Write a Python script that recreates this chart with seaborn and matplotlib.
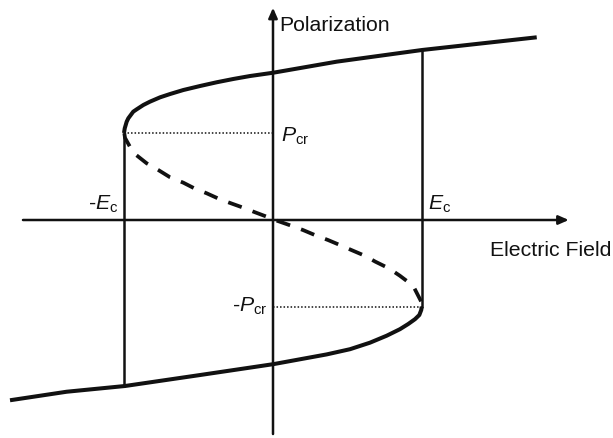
import matplotlib
matplotlib.use("Agg")
import matplotlib.pyplot as plt
import seaborn as sns
import pandas as pd

# Field E in units of the coercive field Ec, polarization P in units of Pcr.
upper_E = [-1.000, -0.995, -0.982, -0.971, -0.938, -0.915, -0.870, -0.826,
           -0.758, -0.691, -0.602, -0.490, -0.378, -0.266, -0.154, 0.002,
           0.428, 1.000, 1.770]
upper_P = [1.000, 1.054, 1.130, 1.169, 1.245, 1.272, 1.322, 1.360,
           1.410, 1.448, 1.494, 1.540, 1.583, 1.621, 1.655, 1.693,
           1.820, 1.954, 2.100]

lower_E = [-1.765, -1.385, -0.993, -0.490, 0.002, 0.360, 0.517, 0.651,
           0.763, 0.852, 0.908, 0.953, 0.982, 0.995, 0.998]
lower_P = [-2.072, -1.974, -1.908, -1.782, -1.657, -1.545, -1.485, -1.410,
           -1.330, -1.255, -1.195, -1.140, -1.092, -1.034, -0.997]

unstable_E = [-0.998, -0.993, -0.938, -0.848, -0.770, -0.691, -0.602, -0.528,
              -0.445, -0.360, -0.282, -0.199, -0.121, -0.042, 0.013, 0.123,
              0.201, 0.291, 0.369, 0.448, 0.526, 0.615, 0.687, 0.777, 0.851,
              0.940, 0.995, 0.998]
unstable_P = [0.997, 0.943, 0.774, 0.652, 0.575, 0.491, 0.429, 0.364,
              0.307, 0.241, 0.192, 0.141, 0.089, 0.038, 0.000, -0.066,
              -0.115, -0.180, -0.230, -0.287, -0.345, -0.410, -0.479, -0.555,
              -0.640, -0.755, -0.939, -0.997]

E_c = 1.0
P_cr = 1.0
# where the vertical switching jumps land on the opposite branch
jump_down_P = -1.908
jump_up_P = 1.954

sns.set_theme(style="white")
plt.rcParams["font.family"] = ["Liberation Sans", "DejaVu Sans"]
plt.rcParams["mathtext.fontset"] = "custom"
plt.rcParams["mathtext.rm"] = "Liberation Sans"
plt.rcParams["mathtext.it"] = "Liberation Sans:italic"

fig = plt.figure(figsize=(6.13, 4.38), dpi=100)
ax = fig.add_axes([0, 0, 1, 1])
ax.set_xlim(-273 / 149, 340 / 149)
ax.set_ylim(-218 / 87, 220 / 87)
ax.axis("off")

black = "#111111"

# coordinate axes with arrow heads
arrow = dict(arrowstyle="-|>,head_length=0.5,head_width=0.22", lw=1.8,
             color=black, shrinkA=0, shrinkB=0, mutation_scale=12)
ax.annotate("", xy=(1.985, 0), xytext=(-1.678, 0), arrowprops=arrow)
ax.annotate("", xy=(0, 2.44), xytext=(0, -2.46), arrowprops=arrow)

# stable branches
upper = pd.DataFrame({"E": upper_E, "P": upper_P})
lower = pd.DataFrame({"E": lower_E, "P": lower_P})
unstable = pd.DataFrame({"E": unstable_E, "P": unstable_P})
for df in (upper, lower):
    sns.lineplot(data=df, x="E", y="P", sort=False, estimator=None, ax=ax,
                 color=black, lw=2.9, solid_joinstyle="round",
                 solid_capstyle="butt")

# unstable branch
sns.lineplot(data=unstable, x="E", y="P", sort=False, estimator=None, ax=ax,
             color=black, lw=2.7, linestyle=(0, (3.8, 3.1)),
             dash_capstyle="butt", dash_joinstyle="round")

# switching jumps at the coercive field
ax.plot([-E_c, -E_c], [P_cr, jump_down_P], color=black, lw=1.8)
ax.plot([E_c, E_c], [-P_cr, jump_up_P], color=black, lw=1.8)

# dotted guides to the critical polarization
ax.plot([-E_c, 0], [P_cr, P_cr], color=black, lw=1.1, linestyle=(0, (1, 1.3)))
ax.plot([0, E_c], [-P_cr, -P_cr], color=black, lw=1.1, linestyle=(0, (1, 1.3)))

fs = 15.3
ax.text(0.040, 2.176, "Polarization", fontsize=fs, ha="left", va="baseline",
        color=black)
ax.text(1.456, -0.414, "Electric Field", fontsize=fs, ha="left",
        va="baseline", color=black)
ax.text(1.040, 0.123, r"$E_{\rm c}$", fontsize=fs, ha="left", va="baseline",
        color=black)
ax.text(-1.040, 0.123, r"-$E_{\rm c}$", fontsize=fs, ha="right",
        va="baseline", color=black)
ax.text(0.052, 0.902, r"$P_{\rm cr}$", fontsize=fs, ha="left", va="baseline",
        color=black)
ax.text(-0.040, -1.057, r"-$P_{\rm cr}$", fontsize=fs, ha="right",
        va="baseline", color=black)

fig.savefig("out.png", dpi=100, facecolor="white")
